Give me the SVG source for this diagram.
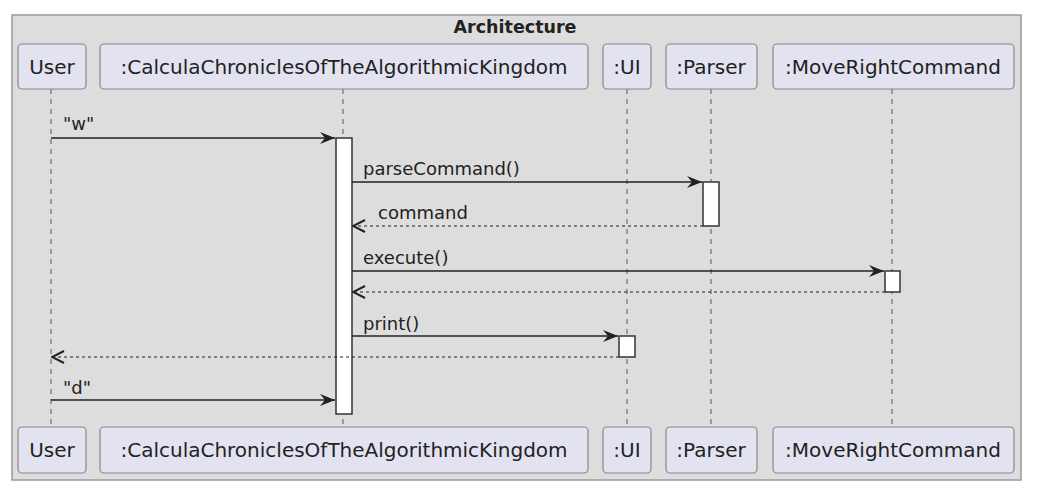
<svg xmlns="http://www.w3.org/2000/svg" width="1040" height="499" viewBox="0 0 1040 499">
<style>
.frame{fill:#DDDDDD;stroke:#999999;stroke-width:1.5}
.pbox{fill:#E2E2F0;stroke:#888888;stroke-width:1.2}
.ptxt{font-family:"DejaVu Sans",sans-serif;font-size:20px;fill:#222;text-anchor:middle}
.life{stroke:#555;stroke-width:1;stroke-dasharray:5,5}
.act{fill:#FFFFFF;stroke:#333;stroke-width:1.5}
.msg{stroke:#222;stroke-width:1.5;fill:none}
.ret{stroke:#222;stroke-width:1.2;stroke-dasharray:3,3;fill:none}
.lbl{font-family:"DejaVu Sans",sans-serif;font-size:18px;fill:#222}
.title{font-family:"DejaVu Sans",sans-serif;font-size:17.5px;font-weight:bold;fill:#222;text-anchor:middle}
</style>
<defs>
<marker id="arr" viewBox="0 0 15 12" refX="15" refY="6" markerWidth="15" markerHeight="12" markerUnits="userSpaceOnUse" orient="auto">
<path d="M0,0 L15,6 L0,12 L5,6 Z" fill="#222"/>
</marker>
<marker id="open" viewBox="0 0 14 14" refX="13" refY="7" markerWidth="14" markerHeight="14" markerUnits="userSpaceOnUse" orient="auto">
<path d="M1,1 L13,7 L1,13" fill="none" stroke="#222" stroke-width="2"/>
</marker>
</defs>
<rect class="frame" x="12" y="15" width="1009" height="465"/>
<text class="title" x="515" y="33">Architecture</text>
<g id="lifelines">
<line class="life" x1="51" y1="89" x2="51" y2="426"/>
<line class="life" x1="343" y1="89" x2="343" y2="426"/>
<line class="life" x1="627" y1="89" x2="627" y2="426"/>
<line class="life" x1="711" y1="89" x2="711" y2="426"/>
<line class="life" x1="892" y1="89" x2="892" y2="426"/>
</g>
<g id="activations">
<rect class="act" x="336" y="138" width="16" height="276"/>
<rect class="act" x="703" y="182" width="16" height="44"/>
<rect class="act" x="885" y="271" width="15" height="21"/>
<rect class="act" x="619" y="336" width="16" height="21"/>
</g>
<g id="node-user">
<rect class="pbox" x="18" y="44" width="68" height="45" rx="4"/>
<text class="ptxt" x="52" y="74">User</text>
<rect class="pbox" x="18" y="427" width="68" height="46" rx="4"/>
<text class="ptxt" x="52" y="457">User</text>
</g>
<g id="node-main">
<rect class="pbox" x="100" y="44" width="488" height="45" rx="4"/>
<text class="ptxt" x="344" y="74">:CalculaChroniclesOfTheAlgorithmicKingdom</text>
<rect class="pbox" x="100" y="427" width="488" height="46" rx="4"/>
<text class="ptxt" x="344" y="457">:CalculaChroniclesOfTheAlgorithmicKingdom</text>
</g>
<g id="node-ui">
<rect class="pbox" x="603" y="44" width="48" height="45" rx="4"/>
<text class="ptxt" x="627" y="74">:UI</text>
<rect class="pbox" x="603" y="427" width="48" height="46" rx="4"/>
<text class="ptxt" x="627" y="457">:UI</text>
</g>
<g id="node-parser">
<rect class="pbox" x="666" y="44" width="91" height="45" rx="4"/>
<text class="ptxt" x="711" y="74">:Parser</text>
<rect class="pbox" x="666" y="427" width="91" height="46" rx="4"/>
<text class="ptxt" x="711" y="457">:Parser</text>
</g>
<g id="node-moveright">
<rect class="pbox" x="773" y="44" width="241" height="45" rx="4"/>
<text class="ptxt" x="893" y="74">:MoveRightCommand</text>
<rect class="pbox" x="773" y="427" width="241" height="46" rx="4"/>
<text class="ptxt" x="893" y="457">:MoveRightCommand</text>
</g>
<g id="connectors">
<line class="msg" x1="51" y1="138" x2="335" y2="138" marker-end="url(#arr)"/>
<text class="lbl" x="63" y="130">"w"</text>
<line class="msg" x1="352" y1="182" x2="702" y2="182" marker-end="url(#arr)"/>
<text class="lbl" x="363" y="175">parseCommand()</text>
<line class="ret" x1="703" y1="226" x2="353" y2="226" marker-end="url(#open)"/>
<text class="lbl" x="378" y="219">command</text>
<line class="msg" x1="352" y1="271" x2="884" y2="271" marker-end="url(#arr)"/>
<text class="lbl" x="363" y="264">execute()</text>
<line class="ret" x1="885" y1="292" x2="353" y2="292" marker-end="url(#open)"/>
<line class="msg" x1="352" y1="336" x2="618" y2="336" marker-end="url(#arr)"/>
<text class="lbl" x="363" y="330">print()</text>
<line class="ret" x1="619" y1="357" x2="52" y2="357" marker-end="url(#open)"/>
<line class="msg" x1="51" y1="400" x2="335" y2="400" marker-end="url(#arr)"/>
<text class="lbl" x="63" y="394">"d"</text>
</g>
</svg>
